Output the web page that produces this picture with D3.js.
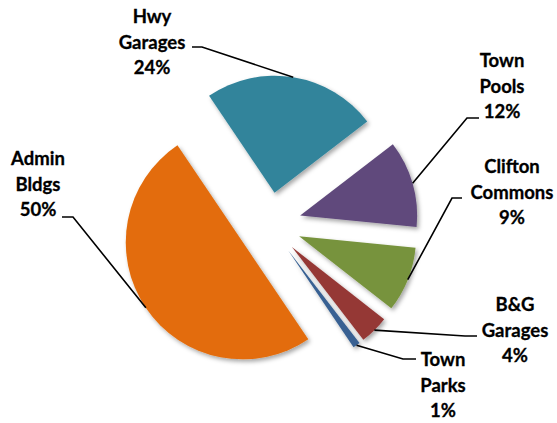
<!DOCTYPE html>
<html>
<head>
<meta charset="utf-8">
<script src="https://cdn.jsdelivr.net/npm/d3@7"></script>
<style>
  html, body { margin: 0; padding: 0; background: #fff; }
  svg { display: block; }
  text { font-family: Lato, "Liberation Sans", sans-serif; font-weight: bold; fill: #000; }
</style>
</head>
<body>
<svg id="chart" width="557" height="423"></svg>
<script>
// Share of spending by facility group
const categories = ["Hwy Garages", "Town Pools", "Clifton Commons", "B&G Garages", "Town Parks", "Admin Bldgs"];
const labelLines = [["Hwy", "Garages"], ["Town", "Pools"], ["Clifton", "Commons"], ["B&G", "Garages"], ["Town", "Parks"], ["Admin", "Bldgs"]];
const values = [24, 12, 9, 4, 1, 50];
const colors = ["#31849B", "#604A7B", "#77933C", "#953735", "#376092", "#E36C09"];

// Label placement: text centre x, first baseline y, leader elbow and end points
const labelLayout = [
  { x: 152, y: 23,  elbow: [202, 47],  end: [192, 47] },
  { x: 502, y: 67,  elbow: [467, 118], end: [479, 118] },
  { x: 512, y: 173, elbow: [452, 198], end: [462, 198] },
  { x: 515, y: 311, elbow: [465, 336], end: [477, 336] },
  { x: 443, y: 366, elbow: [403, 359], end: [416, 359] },
  { x: 38,  y: 165, elbow: [73, 217],  end: [62, 217] }
];

const cx = 269.4, cy = 224.4;
const radius = 117;
const explode = 32;
const lineStep = 25.5;
const start = -34 * Math.PI / 180;

const svg = d3.select("#chart");

const defs = svg.append("defs");
const shadow = defs.append("filter").attr("id", "shadow")
  .attr("x", "-20%").attr("y", "-20%").attr("width", "140%").attr("height", "140%");
shadow.append("feDropShadow")
  .attr("dx", 2).attr("dy", 2.5).attr("stdDeviation", 2.2)
  .attr("flood-color", "#000").attr("flood-opacity", 0.35);

const pie = d3.pie().sort(null).value(d => d)
  .startAngle(start).endAngle(start + 2 * Math.PI);
const arcs = pie(values);

const arc = d3.arc().innerRadius(0).outerRadius(radius);
const rim = d3.arc().innerRadius(radius).outerRadius(radius);
const offsetArc = d3.arc().innerRadius(explode).outerRadius(explode);

const g = svg.append("g").attr("transform", `translate(${cx},${cy})`);

const slices = g.selectAll("g.slice").data(arcs).enter().append("g")
  .attr("class", "slice")
  .attr("transform", d => {
    const [ox, oy] = offsetArc.centroid(d);
    return `translate(${ox},${oy})`;
  });

slices.append("path")
  .attr("d", arc)
  .attr("fill", (d, i) => colors[i])
  .attr("filter", "url(#shadow)");

// Leader lines from the middle of each slice's rim to its label
const leaders = svg.append("g");
arcs.forEach((d, i) => {
  const [ox, oy] = offsetArc.centroid(d);
  const [rx, ry] = rim.centroid(d);
  const p0 = [cx + ox + rx, cy + oy + ry];
  const L = labelLayout[i];
  leaders.append("path")
    .attr("d", d3.line()([p0, L.elbow, L.end]))
    .attr("fill", "none")
    .attr("stroke", "#000")
    .attr("stroke-width", 1.6);
});

// Labels: category name on two lines, then the percentage
const total = d3.sum(values);
const labels = svg.append("g");
arcs.forEach((d, i) => {
  const L = labelLayout[i];
  const lines = labelLines[i].concat([Math.round(values[i] / total * 100) + "%"]);
  const t = labels.append("text")
    .attr("text-anchor", "middle")
    .attr("font-size", 18.5)
    .attr("stroke", "#000")
    .attr("stroke-width", 0.3);
  lines.forEach((s, k) => {
    t.append("tspan").attr("x", L.x).attr("y", L.y + k * lineStep).text(s);
  });
});
</script>
</body>
</html>
